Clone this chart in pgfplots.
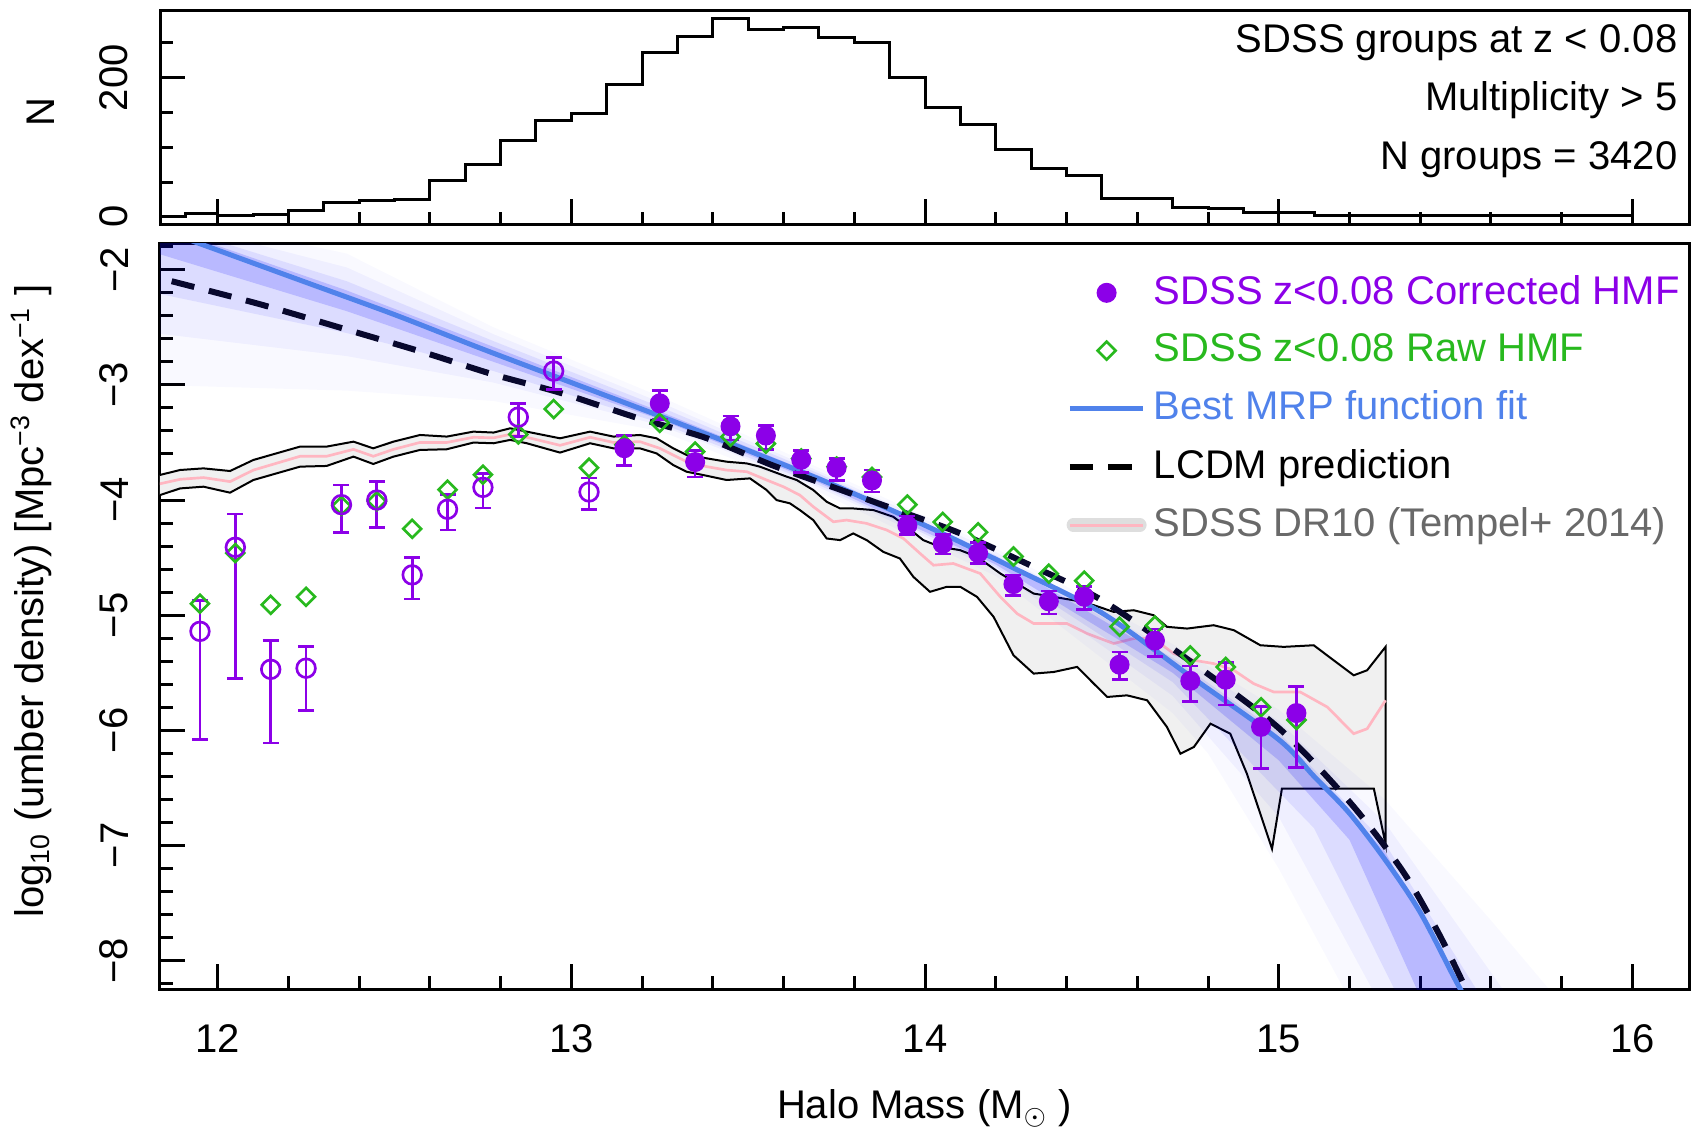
\documentclass[border=0pt]{standalone}
\usepackage{fontspec}
\setmainfont{Liberation Sans}
\usepackage{pgfplots}
\pgfplotsset{compat=1.18}
\usepackage{pgfplotstable}

\definecolor{hmfpurple}{RGB}{140,0,232}
\definecolor{rawgreen}{RGB}{40,185,30}
\definecolor{mrpblue}{RGB}{80,130,235}
\definecolor{lcdm}{RGB}{8,8,45}
\definecolor{bandgrey}{RGB}{240,240,240}
\definecolor{tempelpink}{RGB}{255,182,193}
\definecolor{legendgrey}{RGB}{105,105,105}

\pgfplotsset{
  marklegend/.style={legend image code/.code={%
    \pgfpathmoveto{\pgfpointorigin}\pgfpathlineto{\pgfpoint{22pt}{0pt}}\pgfusepath{discard}%
    \draw[##1] plot[only marks] coordinates {(11pt,0pt)};}},
  linelegend/.style={legend image code/.code={%
    \draw[##1] (0pt,0pt) -- (22pt,0pt);}},
  panel/.style={
    scale only axis, width=458.7pt,
    xmin=11.837, xmax=16.16,
    tick align=inside, xtick pos=bottom, ytick pos=left,
    major tick length=7.5pt, minor tick length=3.8pt,
    tick style={black, line width=0.9pt},
    axis line style={line width=0.9pt},
    xtick={12,13,14,15,16},
    minor xtick={12.2,12.4,12.6,12.8,13.2,13.4,13.6,13.8,14.2,14.4,14.6,14.8,15.2,15.4,15.6,15.8},
    yticklabel style={rotate=90, anchor=south, inner xsep=0pt, inner ysep=9.3pt},
  },
}

% histogram of group masses (left bin edges)
\pgfplotstableread{
x n
11.80 1
11.91 5
12.0 2.5
12.1 4
12.2 9
12.3 20
12.4 24
12.5 25
12.6 52
12.7 75
12.8 110
12.9 138
13.0 148
13.1 190
13.2 237
13.3 259
13.4 285
13.5 270
13.6 272
13.7 258
13.8 251
13.9 200
14.0 157
14.1 133
14.2 97
14.3 70
14.4 59
14.5 26
14.7 14
14.8 12
14.9 6
15.1 1.5
16.0 1.5
}\histtab

% corrected HMF, open symbols (incomplete bins)
\pgfplotstableread{
x y ep em
11.95 -5.14 0.27 0.94
12.05 -4.41 0.29 1.14
12.15 -5.47 0.25 0.64
12.25 -5.46 0.19 0.37
12.35 -4.04 0.17 0.24
12.45 -4.00 0.16 0.24
12.55 -4.65 0.15 0.21
12.65 -4.08 0.13 0.18
12.75 -3.89 0.12 0.18
12.85 -3.28 0.12 0.17
12.95 -2.88 0.12 0.16
13.05 -3.93 0.12 0.15
}\openpts

% corrected HMF, filled symbols
\pgfplotstableread{
x y ep em
13.15 -3.55 0.11 0.15
13.25 -3.16 0.11 0.14
13.35 -3.67 0.10 0.13
13.45 -3.36 0.09 0.12
13.55 -3.44 0.09 0.12
13.65 -3.65 0.08 0.11
13.75 -3.72 0.08 0.11
13.85 -3.83 0.09 0.10
13.95 -4.22 0.08 0.08
14.05 -4.38 0.08 0.09
14.15 -4.46 0.09 0.09
14.25 -4.73 0.08 0.10
14.35 -4.88 0.09 0.11
14.45 -4.84 0.09 0.11
14.55 -5.43 0.11 0.13
14.65 -5.22 0.10 0.14
14.75 -5.57 0.13 0.18
14.85 -5.56 0.15 0.22
14.95 -5.97 0.18 0.36
15.05 -5.85 0.23 0.47
}\fillpts

% raw HMF
\pgfplotstableread{
x y
11.95 -4.90
12.05 -4.46
12.15 -4.91
12.25 -4.84
12.35 -4.05
12.45 -4.01
12.55 -4.25
12.65 -3.91
12.75 -3.78
12.85 -3.43
12.95 -3.21
13.05 -3.72
13.15 -3.52
13.25 -3.33
13.35 -3.58
13.45 -3.45
13.55 -3.51
13.65 -3.64
13.75 -3.71
13.85 -3.80
13.95 -4.04
14.05 -4.19
14.15 -4.28
14.25 -4.49
14.35 -4.64
14.45 -4.70
14.55 -5.10
14.65 -5.09
14.75 -5.35
14.85 -5.45
14.95 -5.80
15.05 -5.91
}\rawpts

\begin{document}
\fontsize{12}{14.4}\selectfont
\begin{tikzpicture}
\useasboundingbox (-48pt,-43.2pt) rectangle (462pt,296.7pt);

% ---------------- main panel: halo mass function ----------------
\begin{axis}[
  panel, height=223.8pt,
  at={(0pt,0pt)}, anchor=south west,
  ymin=-8.246, ymax=-1.768,
  xticklabels={12,13,14,15,16},
  xticklabel style={anchor=base, yshift=-18.9pt},
  ytick={-8,-7,-6,-5,-4,-3,-2},
  yticklabels={−8,−7,−6,−5,−4,−3,−2},
  minor ytick={-8.2,-7.8,-7.6,-7.4,-7.2,-6.8,-6.6,-6.4,-6.2,-5.8,-5.6,-5.4,-5.2,-4.8,-4.6,-4.4,-4.2,-3.8,-3.6,-3.4,-3.2,-2.8,-2.6,-2.4,-2.2,-1.8},
  xlabel={Halo Mass (M\textsubscript{$\odot$} )},
  xlabel style={at={(axis description cs:0.5,0)}, anchor=base, yshift=-38.8pt},
  ylabel={log\textsubscript{10} (umber density) [Mpc\textsuperscript{−3} dex\textsuperscript{−1} ]},
  ylabel style={at={(axis description cs:-0.084,0.52)}, anchor=center},
  legend style={at={(0.5925,1)}, anchor=north west, yshift=-9.5pt,
    draw=none, fill=none, inner sep=0pt, row sep=7pt,
    nodes={inner sep=0pt},
    /tikz/every odd column/.append style={column sep=2.2pt}},
  legend cell align=left,
]

% Tempel+2014 band
\addplot[forget plot, fill=bandgrey, draw=black, line width=0.6pt] coordinates {
(11.82,-3.79) (11.837,-3.782) (11.894,-3.739) (11.960,-3.725) (12.035,-3.748)
(12.101,-3.652) (12.167,-3.594) (12.233,-3.536) (12.308,-3.536) (12.384,-3.493)
(12.440,-3.551) (12.497,-3.493) (12.572,-3.435) (12.648,-3.449) (12.723,-3.406)
(12.780,-3.414) (12.827,-3.377) (12.874,-3.406) (12.968,-3.464) (13.053,-3.406)
(13.119,-3.449) (13.194,-3.435) (13.241,-3.464) (13.288,-3.551) (13.326,-3.609)
(13.383,-3.638) (13.439,-3.667) (13.496,-3.682) (13.533,-3.710) (13.609,-3.797)
(13.637,-3.826) (13.684,-3.913) (13.722,-4.015) (13.760,-4.073) (13.797,-4.073)
(13.854,-4.087) (13.910,-4.145) (13.948,-4.232) (13.995,-4.348) (14.042,-4.406)
(14.099,-4.435) (14.147,-4.493) (14.213,-4.638) (14.307,-4.812) (14.364,-4.841)
(14.420,-4.870) (14.477,-4.913) (14.533,-4.971) (14.590,-4.957) (14.646,-5.000)
(14.684,-5.101) (14.741,-5.116) (14.816,-5.087) (14.873,-5.130) (14.948,-5.261)
(15.014,-5.275) (15.099,-5.261) (15.155,-5.391) (15.212,-5.522) (15.250,-5.478)
(15.302,-5.275)
(15.302,-6.986) (15.269,-6.507) (15.009,-6.507) (14.981,-7.029) (14.948,-6.725)
(14.910,-6.377) (14.863,-6.029) (14.807,-5.942) (14.760,-6.145) (14.722,-6.203)
(14.684,-5.971) (14.628,-5.739) (14.571,-5.696) (14.515,-5.710) (14.477,-5.594)
(14.430,-5.449) (14.364,-5.493) (14.307,-5.507) (14.250,-5.348) (14.194,-5.015)
(14.147,-4.841) (14.100,-4.754) (14.061,-4.754) (14.014,-4.797) (13.967,-4.667)
(13.929,-4.508) (13.882,-4.450) (13.835,-4.348) (13.797,-4.290) (13.760,-4.348)
(13.722,-4.334) (13.684,-4.174) (13.646,-4.087) (13.618,-4.029) (13.580,-4.000)
(13.552,-3.913) (13.505,-3.812) (13.439,-3.826) (13.373,-3.783) (13.326,-3.754)
(13.288,-3.696) (13.241,-3.595) (13.194,-3.551) (13.119,-3.551) (13.053,-3.507)
(12.968,-3.588) (12.874,-3.507) (12.827,-3.478) (12.780,-3.507) (12.723,-3.501)
(12.648,-3.559) (12.572,-3.565) (12.497,-3.623) (12.440,-3.687) (12.384,-3.623)
(12.308,-3.704) (12.233,-3.710) (12.167,-3.768) (12.101,-3.826) (12.035,-3.936)
(11.960,-3.884) (11.894,-3.899) (11.837,-3.957) (11.82,-3.96)
} -- cycle;

\addplot[forget plot, tempelpink, line width=0.8pt] coordinates {
(11.82,-3.87) (11.894,-3.82) (11.960,-3.805) (12.035,-3.84) (12.101,-3.74)
(12.167,-3.68) (12.233,-3.62) (12.308,-3.62) (12.384,-3.56) (12.440,-3.62)
(12.497,-3.56) (12.572,-3.50) (12.648,-3.50) (12.723,-3.455) (12.780,-3.46)
(12.827,-3.43) (12.874,-3.455) (12.968,-3.525) (13.053,-3.455) (13.119,-3.50)
(13.194,-3.493) (13.25,-3.551) (13.288,-3.609) (13.326,-3.667) (13.383,-3.71)
(13.439,-3.74) (13.496,-3.754) (13.552,-3.826) (13.599,-3.884) (13.646,-3.957)
(13.684,-4.058) (13.741,-4.189) (13.778,-4.174) (13.835,-4.203) (13.892,-4.261)
(13.939,-4.334) (13.986,-4.464) (14.024,-4.566) (14.08,-4.551) (14.156,-4.638)
(14.213,-4.841) (14.260,-4.986) (14.307,-5.072) (14.401,-5.072) (14.458,-5.159)
(14.533,-5.246) (14.590,-5.203) (14.646,-5.203) (14.703,-5.333) (14.760,-5.391)
(14.816,-5.420) (14.873,-5.478) (14.929,-5.594) (14.986,-5.667) (15.061,-5.667)
(15.137,-5.797) (15.212,-6.029) (15.250,-5.986) (15.302,-5.739)
};

% MRP fit posterior spread (nested envelopes)
\addplot[forget plot, draw=none, fill=blue, fill opacity=0.025] coordinates {
(11.82,-1.50) (12.365,-1.86) (12.78,-2.50) (13.25,-3.10) (13.7,-3.72) (14.2,-4.42)
(14.7,-5.25) (15.0,-5.82) (15.3,-6.60) (15.6,-7.65) (15.82,-8.45)
(15.22,-8.45) (15.0,-7.20) (14.8,-6.20) (14.7,-5.85) (14.2,-4.66) (13.7,-3.93)
(13.25,-3.40) (12.78,-3.14) (12.365,-3.05) (11.82,-3.00)
} -- cycle;
\addplot[forget plot, draw=none, fill=blue, fill opacity=0.04] coordinates {
(11.82,-1.55) (12.365,-1.98) (12.78,-2.56) (13.25,-3.15) (13.7,-3.75) (14.2,-4.45)
(14.7,-5.32) (15.0,-5.92) (15.3,-6.80) (15.68,-8.45)
(15.30,-8.45) (15.0,-6.75) (14.7,-5.70) (14.2,-4.61) (13.7,-3.89) (13.25,-3.35)
(12.78,-2.98) (12.365,-2.75) (11.82,-2.55)
} -- cycle;
\addplot[forget plot, draw=none, fill=blue, fill opacity=0.08] coordinates {
(11.82,-1.58) (12.365,-2.10) (12.78,-2.62) (13.25,-3.19) (13.7,-3.77) (14.2,-4.48)
(14.7,-5.37) (15.0,-6.02) (15.3,-6.98) (15.60,-8.45)
(15.36,-8.45) (15.1,-6.85) (14.7,-5.58) (14.2,-4.58) (13.7,-3.87) (13.25,-3.33)
(12.78,-2.88) (12.365,-2.55) (11.82,-2.20)
} -- cycle;
\addplot[forget plot, draw=none, fill=blue, fill opacity=0.16] coordinates {
(11.82,-1.60) (12.365,-2.18) (12.78,-2.67) (13.25,-3.23) (13.7,-3.79) (14.2,-4.50)
(14.7,-5.40) (15.0,-6.06) (15.3,-7.05) (15.55,-8.45)
(15.42,-8.45) (15.2,-6.95) (15.0,-6.26) (14.7,-5.50) (14.2,-4.56) (13.7,-3.85)
(13.25,-3.30) (12.78,-2.80) (12.365,-2.36) (11.82,-1.85)
} -- cycle;

% best MRP fit
\addplot[forget plot, mrpblue, line width=1.5pt, smooth] coordinates {
(11.82,-1.63) (12.0,-1.83) (12.25,-2.11) (12.5,-2.39) (12.75,-2.69) (13.0,-2.98)
(13.25,-3.27) (13.5,-3.57) (13.75,-3.88) (14.0,-4.22) (14.25,-4.59) (14.5,-4.98)
(14.75,-5.53) (15.0,-6.08) (15.1,-6.40) (15.2,-6.72) (15.3,-7.12) (15.4,-7.58)
(15.5,-8.17) (15.56,-8.50)
};

% LCDM prediction
\addplot[forget plot, lcdm, line width=1.8pt, dash pattern=on 7pt off 4.5pt, smooth] coordinates {
(11.87,-2.10) (12.12,-2.30) (12.365,-2.52) (12.59,-2.725) (12.78,-2.91) (12.97,-3.07)
(13.19,-3.29) (13.38,-3.46) (13.57,-3.70) (13.76,-3.91) (13.95,-4.12) (14.1,-4.29)
(14.3,-4.57) (14.5,-4.87) (14.75,-5.40) (15.0,-5.98) (15.2,-6.62) (15.35,-7.22)
(15.45,-7.75) (15.53,-8.25) (15.55,-8.40)
};

% raw HMF
\addplot[forget plot, only marks, rawgreen, mark=square, mark size=1.9pt,
  mark options={rotate=45, line width=0.8pt}] table[x=x, y=y]{\rawpts};

% corrected HMF
\addplot[forget plot, only marks, hmfpurple, mark=o, mark size=2.8pt,
  mark options={line width=0.8pt},
  error bars/.cd, y dir=both, y explicit,
  error bar style={line width=0.8pt, hmfpurple},
  error mark options={rotate=90, line width=0.8pt, mark size=2.4pt, hmfpurple}]
  table[x=x, y=y, y error plus=ep, y error minus=em]{\openpts};
\addplot[forget plot, only marks, hmfpurple, mark=*, mark size=2.8pt,
  mark options={fill=hmfpurple, draw=hmfpurple},
  error bars/.cd, y dir=both, y explicit,
  error bar style={line width=0.8pt, hmfpurple},
  error mark options={rotate=90, line width=0.8pt, mark size=2.4pt, hmfpurple}]
  table[x=x, y=y, y error plus=ep, y error minus=em]{\fillpts};

% legend
\addlegendimage{only marks, mark=*, mark size=2.8pt, hmfpurple, marklegend}
\addlegendentry{\textcolor{hmfpurple}{SDSS z<0.08 Corrected HMF}}
\addlegendimage{only marks, mark=square, mark size=1.9pt, mark options={rotate=45, line width=0.8pt}, rawgreen, marklegend}
\addlegendentry{\textcolor{rawgreen}{SDSS z<0.08 Raw HMF}}
\addlegendimage{mrpblue, line width=1.5pt, linelegend}
\addlegendentry{\textcolor{mrpblue}{Best MRP function fit}}
\addlegendimage{black, line width=1.8pt, dash pattern=on 7pt off 4.5pt, linelegend}
\addlegendentry{LCDM prediction}
\addlegendimage{legend image code/.code={%
  \draw[line width=4pt, black!13, line cap=round] (1pt,0pt) -- (21pt,0pt);
  \draw[tempelpink, line width=0.9pt] (0pt,0pt) -- (22pt,0pt);}}
\addlegendentry{\textcolor{legendgrey}{SDSS DR10 (Tempel+ 2014)}}
\end{axis}

% ---------------- top panel: histogram ----------------
\begin{axis}[
  panel, height=64.05pt,
  at={(0pt,229.35pt)}, anchor=south west,
  ymin=-11, ymax=296,
  xticklabels={},
  ytick={0,200}, yticklabels={0,200},
  minor ytick={50,100,150,250},
  ylabel={N},
  ylabel style={at={(axis description cs:-0.0778,0.527)}, anchor=center},
]
\addplot[const plot, black, line width=0.9pt] table[x=x, y=n]{\histtab};
\node[anchor=base east, inner sep=0pt] at (axis description cs:0.9928,0.8064) {SDSS groups at z < 0.08};
\node[anchor=base east, inner sep=0pt] at (axis description cs:0.9928,0.5324) {Multiplicity > 5};
\node[anchor=base east, inner sep=0pt] at (axis description cs:0.9928,0.2584) {N groups = 3420};
\end{axis}
\end{tikzpicture}
\end{document}
